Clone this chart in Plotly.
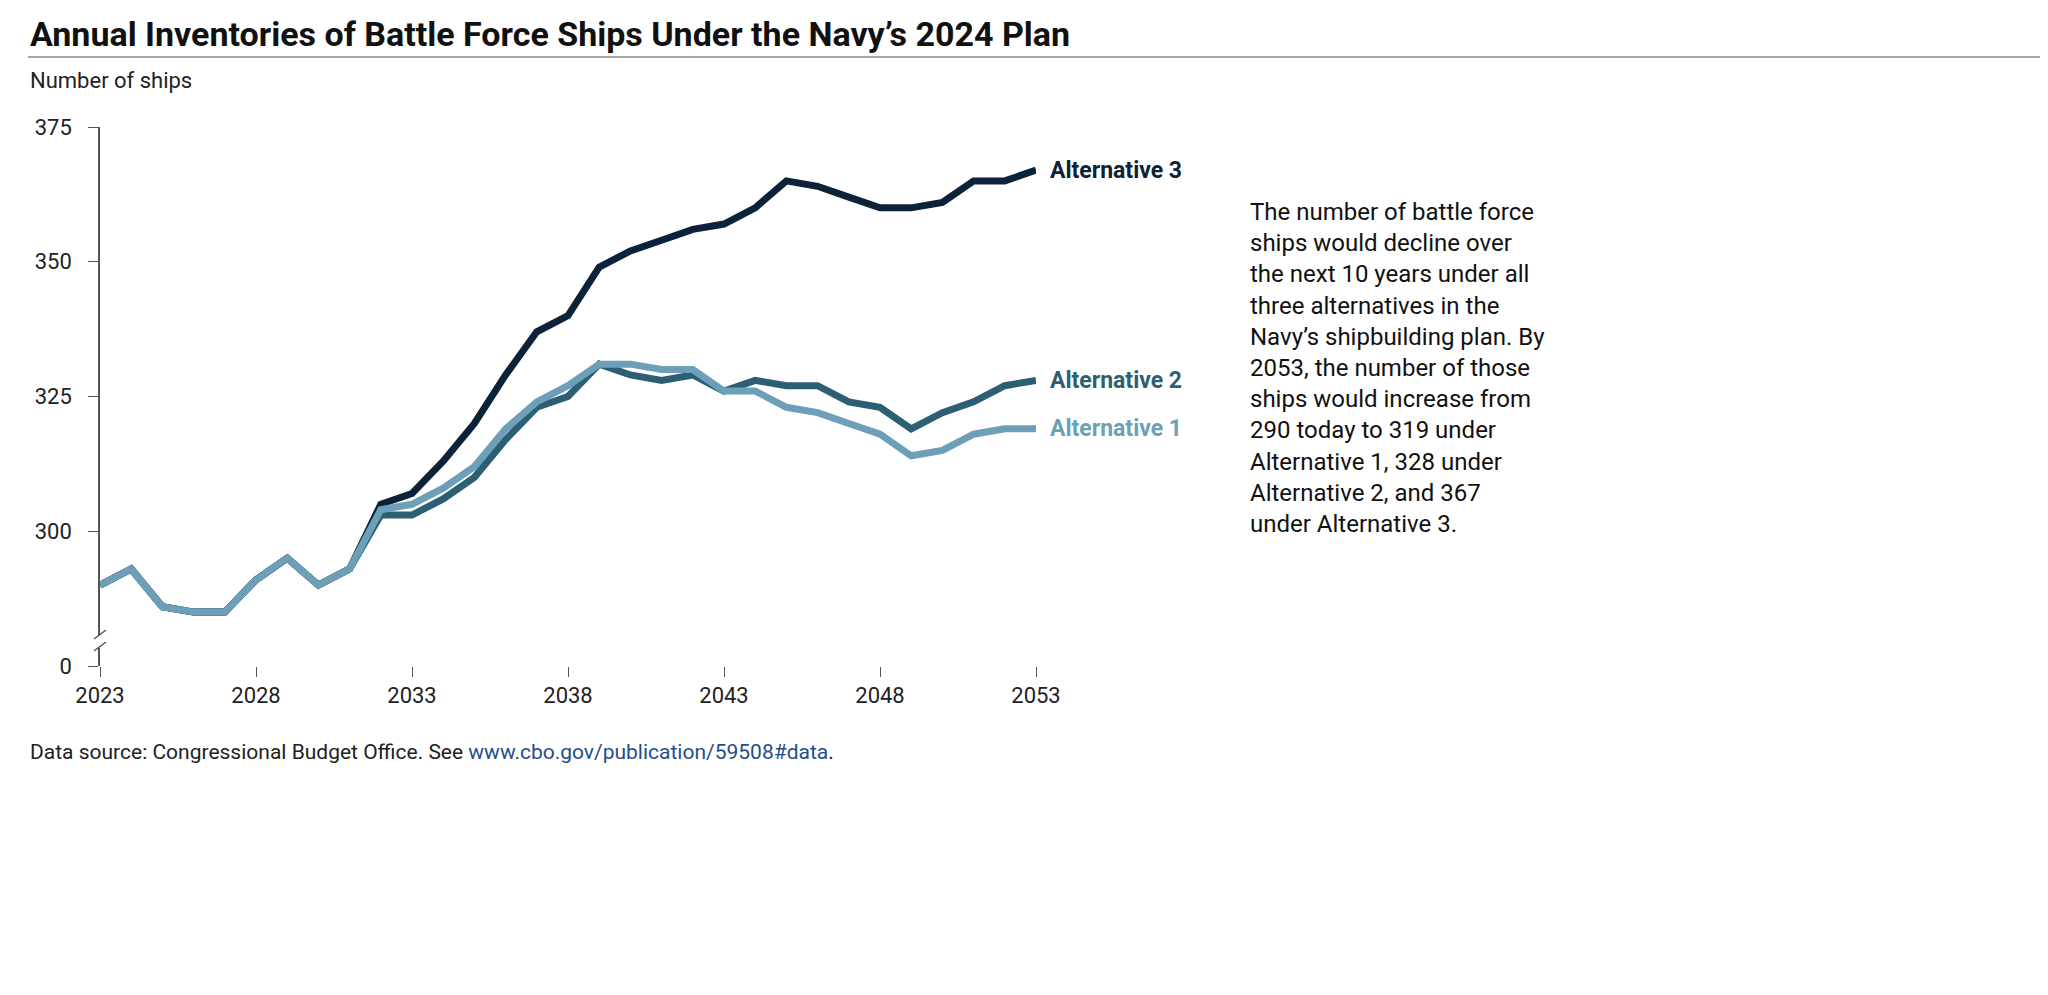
import plotly.graph_objects as go

years = list(range(2023, 2054))
common = [290, 293, 286, 285, 285, 291, 295, 290, 293]
alt1 = common + [304, 305, 308, 312, 319, 324, 327, 331, 331, 330, 330, 326, 326, 323, 322,
                 320, 318, 314, 315, 318, 319, 319]
alt2 = common + [303, 303, 306, 310, 317, 323, 325, 331, 329, 328, 329, 326, 328, 327, 327,
                 324, 323, 319, 322, 324, 327, 328]
alt3 = common + [305, 307, 313, 320, 329, 337, 340, 349, 352, 354, 356, 357, 360, 365, 364,
                 362, 360, 360, 361, 365, 365, 367]
names = ["Alternative 3", "Alternative 2", "Alternative 1"]
colors = ["#0b2239", "#2c5f73", "#6d9fb8"]
ytick_vals = [275, 300, 325, 350, 375]
ytick_text = ["0", "300", "325", "350", "375"]
xtick_vals = [2023, 2028, 2033, 2038, 2043, 2048, 2053]

F = "Roboto"
L, R, T, B = 92, 1028, 119, 658
pw, ph = R - L, B - T


def px(x):
    return (x - L) / pw


def py(y):
    return (B - y) / ph


fig = go.Figure()
for name, vals, c in zip(names, [alt3, alt2, alt1], colors):
    fig.add_trace(go.Scatter(x=years, y=vals, mode="lines", name=name,
                             line=dict(color=c, width=7), showlegend=False))
    fig.add_annotation(x=2053, y=vals[-1], text=f"<b>{name}</b>", showarrow=False,
                       xanchor="left", xshift=12, font=dict(family=F, size=23, color=c))

fig.update_xaxes(range=[2023, 2053], tickvals=xtick_vals, ticks="outside", ticklen=10,
                 tickcolor="#555", showgrid=False, zeroline=False, showline=False,
                 tickfont=dict(family=F, size=22, color="#222"))
fig.update_yaxes(range=[275, 375], tickvals=ytick_vals, ticktext=ytick_text,
                 ticks="outside", ticklen=10, tickcolor="#555", showgrid=False,
                 zeroline=False, showline=True, linecolor="#555", linewidth=1.5,
                 tickfont=dict(family=F, size=22, color="#222"), ticklabelstandoff=12)

# axis break marks
fig.add_shape(type="rect", xref="paper", yref="paper", x0=px(86), x1=px(98), y0=py(640),
              y1=py(628), line=dict(width=0), fillcolor="white", layer="above")
for yy in [643, 631]:
    fig.add_shape(type="line", xref="paper", yref="paper", x0=px(86), x1=px(98),
                  y0=py(yy), y1=py(yy - 9), line=dict(color="#555", width=1.5))

fig.add_annotation(xref="paper", yref="paper", x=px(20), y=py(4), xanchor="left", yanchor="top",
                   text="<b>Annual Inventories of Battle Force Ships Under the Navy’s 2024 Plan</b>",
                   showarrow=False, font=dict(family=F, size=34, color="#111"))
fig.add_shape(type="line", xref="paper", yref="paper", x0=px(20), x1=px(2040),
              y0=py(49), y1=py(49), line=dict(color="#888", width=1.5))
fig.add_annotation(xref="paper", yref="paper", x=px(20), y=py(58), xanchor="left", yanchor="top",
                   text="Number of ships", showarrow=False,
                   font=dict(family=F, size=22, color="#222"))
fig.add_annotation(xref="paper", yref="paper", x=px(1240), y=py(188), xanchor="left", yanchor="top",
                   align="left", showarrow=False,
                   text="The number of battle force<br>ships would decline over<br>the next 10 years under all<br>"
                        "three alternatives in the<br>Navy’s shipbuilding plan. By<br>2053, the number of those<br>"
                        "ships would increase from<br>290 today to 319 under<br>Alternative 1, 328 under<br>"
                        "Alternative 2, and 367<br>under Alternative 3.",
                   font=dict(family=F, size=24, color="#111"))
fig.add_annotation(xref="paper", yref="paper", x=px(20), y=py(730), xanchor="left", yanchor="top",
                   showarrow=False,
                   text="Data source: Congressional Budget Office. See "
                        "<span style='color:#1f4e8c'>www.cbo.gov/publication/59508#data</span>.",
                   font=dict(family=F, size=21, color="#222"))
fig.update_layout(
    width=2048, height=995, plot_bgcolor="white", paper_bgcolor="white",
    margin=dict(l=L, r=2048 - R, t=T, b=995 - B),
)
fig.write_html("out.html")
